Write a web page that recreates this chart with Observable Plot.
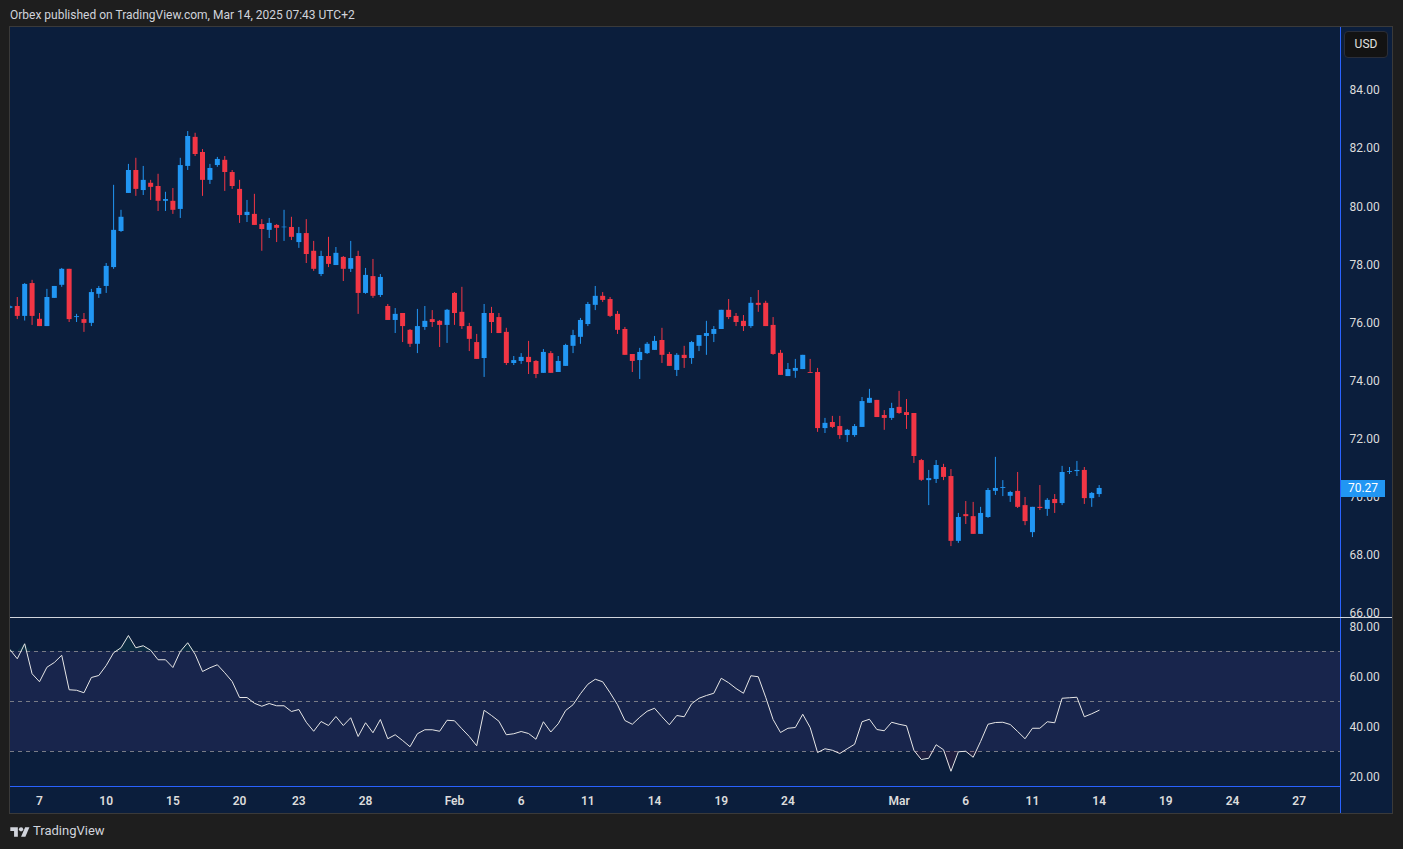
<!DOCTYPE html>
<html><head><meta charset="utf-8">
<script src="https://cdn.jsdelivr.net/npm/d3@7"></script>
<script src="https://cdn.jsdelivr.net/npm/@observablehq/plot@0.6"></script>
<style>
body{margin:0;background:#1e1e1e;}
#root{position:relative;width:1403px;height:849px;overflow:hidden;background:#1e1e1e;font-family:Roboto,"Noto Sans",sans-serif;}
.abs{position:absolute;}
</style></head><body>
<div id="root">
  <div class="abs" style="left:10px;top:8px;font-size:12px;color:#d1d4dc;">Orbex published on TradingView.com, Mar 14, 2025 07:43 UTC+2</div>
  <div class="abs" style="left:9px;top:26px;width:1382px;height:786px;border:1px solid #3a3a3a;background:#0b1e3c;"></div>
  <div id="price" class="abs" style="left:10px;top:27px"></div>
  <div id="rsi" class="abs" style="left:10px;top:617px"></div>
  <div class="abs" style="left:1340px;top:27px;width:1px;height:786px;background:#2962ff;"></div>
  <div class="abs" style="left:10px;top:617px;width:1382px;height:1px;background:#d1d4dc;"></div>
  <div class="abs" style="left:10px;top:786px;width:1330px;height:1px;background:#2962ff;"></div>
  <div class="abs" style="left:1344px;top:31px;width:42px;height:25px;border:1px solid #2a2e39;border-radius:4px;background:#131313;color:#e0e0e0;font-size:12px;line-height:25px;text-align:center;">USD</div>
  <div id="lastLabel" class="abs" style="left:1341px;width:44px;height:17px;background:#2196f3;color:#fff;font-size:12px;line-height:17px;text-align:center;"></div>
  <svg class="abs" style="left:10px;top:825px" width="20" height="14" viewBox="0 0 36 26"><path d="M14 22H7V11H0V4h14v18z" fill="#d1d4dc"/><circle cx="20" cy="8" r="4" fill="#d1d4dc"/><path d="M28 22h-8l7.5-18h8L28 22z" fill="#d1d4dc"/></svg>
  <div class="abs" style="left:33px;top:823px;font-size:13px;color:#d1d4dc;">TradingView</div>
</div>
<script>
const open = [76.47,76.53,76.19,77.32,76.09,75.84,76.81,77.26,77.81,76.15,76.08,75.95,76.95,77.22,77.87,79.11,80.42,81.21,80.52,80.77,
80.66,80.15,80.15,79.87,81.35,82.35,81.83,80.87,81.38,81.56,81.14,80.56,79.66,79.70,79.35,79.15,79.32,79.24,79.25,78.73,
79.04,78.43,77.63,78.25,77.94,78.22,77.81,78.25,76.98,77.56,76.91,76.53,76.05,76.29,75.71,75.23,75.81,76.08,76.02,75.88,
76.98,76.33,75.84,75.29,74.74,76.29,76.15,75.64,74.57,74.64,74.78,74.64,74.23,74.91,74.26,74.47,75.16,75.47,75.91,76.57,
76.88,76.77,76.26,75.74,74.88,74.67,74.91,75.02,75.36,74.88,74.33,74.85,74.74,75.16,75.50,75.57,75.74,76.40,76.19,76.02,
75.84,76.64,76.64,75.88,74.92,74.12,74.30,74.36,74.26,74.26,72.33,72.54,72.40,72.09,72.09,72.37,73.20,73.30,72.78,72.68,
73.06,72.88,72.85,71.23,70.54,70.58,70.99,70.68,68.45,69.37,69.30,68.69,69.27,70.17,70.27,70.00,70.17,69.68,68.75,69.62,
69.55,69.89,69.75,70.82,70.85,70.89,69.92,70.06];
const high = [76.55,76.84,77.32,77.43,76.29,77.12,77.22,77.84,77.81,76.26,76.29,77.12,77.22,78.01,80.70,79.84,81.42,81.63,81.35,80.87,
81.08,80.46,80.59,81.63,82.55,82.49,81.93,81.42,81.66,81.69,81.21,80.87,80.18,80.39,79.52,79.56,79.35,79.84,79.60,79.25,
79.52,78.77,78.43,78.91,78.56,78.25,78.77,78.43,77.84,78.15,77.63,76.60,76.46,76.29,75.74,76.43,76.53,76.39,76.05,76.43,
77.01,77.19,75.95,75.57,76.60,76.50,76.29,75.78,74.81,74.91,75.33,74.67,75.05,74.98,74.81,75.23,75.71,76.12,76.67,77.22,
77.01,76.84,76.36,75.81,74.88,75.09,75.29,75.50,75.78,74.95,74.91,75.16,75.33,75.53,76.02,75.84,76.40,76.77,76.29,76.22,
76.84,77.08,76.71,76.15,75.02,74.57,74.71,74.85,74.71,74.40,72.68,72.75,72.75,72.30,72.47,73.40,73.68,73.30,72.95,73.20,
73.61,73.33,72.85,71.27,70.89,71.23,71.10,70.92,69.41,69.82,69.79,69.62,70.27,71.34,70.54,70.17,70.82,69.96,69.62,70.37,
69.92,70.06,71.03,70.99,71.20,70.99,70.13,70.37];
const low = [76.45,76.08,76.03,75.88,75.84,75.84,76.81,77.19,75.98,75.98,75.64,75.84,76.81,76.98,77.81,79.08,80.42,80.32,80.35,80.18,
79.80,79.80,79.70,79.56,81.21,81.69,80.32,80.73,81.32,80.49,80.56,79.39,79.42,79.32,78.43,78.87,78.73,78.77,78.80,78.53,
78.01,77.74,77.56,77.87,77.94,77.39,77.70,76.26,76.95,76.81,76.84,76.05,75.60,75.29,75.12,74.91,75.71,75.81,75.12,75.26,
75.88,75.74,74.98,74.71,74.09,75.60,75.60,74.50,74.50,74.54,74.19,74.05,74.23,74.23,74.26,74.47,74.91,75.23,75.84,76.39,
76.67,76.15,75.57,74.85,74.26,74.02,74.88,75.02,74.57,74.47,74.12,74.40,74.54,74.98,74.85,75.29,75.74,76.08,75.84,75.67,
75.78,76.33,75.84,74.85,74.16,74.12,74.06,74.36,74.23,72.20,72.16,72.33,71.96,71.85,72.03,72.37,73.20,72.71,72.27,72.61,
72.82,72.30,71.13,70.51,69.68,70.44,70.54,68.27,68.38,69.03,68.69,68.69,69.24,70.03,69.99,69.79,69.58,68.99,68.58,69.51,
69.31,69.41,69.68,70.75,70.68,69.72,69.62,69.96];
const close = [76.52,76.19,77.29,76.19,75.84,76.84,77.22,77.81,76.08,76.18,75.95,77.01,77.15,77.91,79.15,79.60,81.21,80.56,80.87,80.63,
80.15,80.21,79.84,81.38,82.38,81.76,80.87,81.28,81.59,81.14,80.66,79.66,79.77,79.32,79.18,79.39,79.22,79.26,78.91,79.04,
78.32,77.81,78.25,77.98,78.36,77.81,78.18,76.98,77.60,76.88,77.53,76.05,76.26,75.84,75.23,75.84,76.02,75.98,75.88,76.40,
76.29,75.84,75.40,74.71,76.29,75.98,75.60,74.57,74.67,74.78,74.60,74.19,74.95,74.23,74.64,75.19,75.53,76.05,76.60,76.88,
76.74,76.19,75.71,74.85,74.64,74.95,75.23,75.33,74.85,74.47,74.85,74.74,75.29,75.53,75.60,75.74,76.40,76.15,75.98,75.84,
76.64,76.57,75.84,74.88,74.16,74.36,74.40,74.85,74.23,72.33,72.51,72.37,72.09,72.27,72.40,73.26,73.37,72.71,72.68,73.02,
72.85,72.78,71.37,70.55,70.61,71.06,70.65,68.45,69.27,69.30,68.69,69.41,70.20,70.27,70.30,70.13,69.62,69.13,69.62,69.58,
69.86,69.75,70.82,70.85,70.89,69.92,70.10,70.27];
const rsi = [70.8,67.1,73.1,61.1,57.9,63.7,65.6,68.5,54.7,54.5,53.5,59.6,60.4,64.4,69.5,71.5,76.4,71.5,72.3,70.5,
66.7,66.7,63.6,70.0,73.5,68.9,62.0,63.5,64.7,61.5,58.0,51.6,51.6,49.3,48.1,49.2,48.3,48.3,46.0,46.8,
41.7,38.1,42.0,40.4,44.0,40.4,43.5,36.0,41.5,37.5,42.8,35.1,36.7,34.4,31.9,37.1,38.7,38.7,38.1,42.5,
42.3,39.1,36.0,32.3,46.5,44.4,42.1,36.7,37.1,38.0,37.2,34.9,41.9,37.8,41.1,46.4,48.7,53.1,56.9,58.9,
57.9,53.5,48.7,42.4,40.9,43.7,46.1,47.3,43.9,40.7,44.4,43.9,49.1,51.3,52.4,53.3,59.3,57.5,55.2,53.3,
60.3,59.9,51.7,42.8,37.6,39.3,39.6,44.9,39.6,29.6,31.1,30.5,29.2,31.1,32.9,41.9,42.9,38.8,38.3,41.7,
40.9,40.3,30.5,26.8,27.3,32.7,30.7,22.1,29.9,30.1,27.7,34.0,40.9,41.6,41.7,40.8,38.0,35.1,39.3,39.3,
41.9,41.5,51.3,51.5,51.7,43.9,45.1,46.5];
const timeTickIndex = [4,13,22,31,39,48,60,69,78,87,96,105,120,129,138,147,156,165,174];
const timeTickLabel = ["7","10","15","20","23","28","Feb","6","11","14","19","24","Mar","6","11","14","19","24","27"];
const priceTicks = [66,68,70,72,74,76,78,80,82,84];
const rsiTicks = [20,40,60,80];
const rsiLevels = [70,50,30];

const UP = "#2196f3", DOWN = "#f23645";
const xDomain = [0.086, 179.57];
const priceDomain = [65.83, 86.13];
const rsiDomain = [16, 83.6];
const idx = d3.range(close.length);
const col = i => close[i] >= open[i] ? UP : DOWN;
const baseStyle = {background:"transparent", color:"#dcdcdc", fontFamily:"Roboto, 'Noto Sans', sans-serif", fontSize:"12px", overflow:"visible"};

const pricePlot = Plot.plot({
  width: 1382, height: 590,
  marginLeft: 0, marginRight: 52, marginTop: 0, marginBottom: 0,
  style: baseStyle,
  x: {domain: xDomain, axis: null},
  y: {domain: priceDomain, axis: null},
  marks: [
    Plot.axisY({anchor: "right", ticks: priceTicks, tickFormat: d => d.toFixed(2), tickSize: 0, tickPadding: 9, label: null, dy: 1}),
    Plot.ruleX(idx, {x: i => i, y1: i => low[i], y2: i => high[i], stroke: col, strokeWidth: 1, clip: true}),
    Plot.ruleX(idx, {x: i => i, y1: i => open[i], y2: i => close[i], stroke: col, strokeWidth: 5, clip: true})
  ]
});
document.getElementById("price").appendChild(pricePlot);

const rsiPlot = Plot.plot({
  width: 1382, height: 196,
  marginLeft: 0, marginRight: 52, marginTop: 0, marginBottom: 27,
  style: baseStyle,
  x: {domain: xDomain, axis: null},
  y: {domain: rsiDomain, axis: null},
  marks: [
    Plot.rect([rsiLevels], {x1: xDomain[0], x2: xDomain[1], y1: d => d[2], y2: d => d[0], fill: "#7e57c2", fillOpacity: 0.12}),
    Plot.ruleY(rsiLevels, {stroke: "#787b86", strokeDasharray: "4,4", strokeWidth: 1}),
    Plot.areaY(idx, {x: i => i, y1: rsiLevels[0], y2: i => Math.max(rsi[i], rsiLevels[0]), fill: "#0f8a6a", fillOpacity: 0.12, clip: true}),
    Plot.areaY(idx, {x: i => i, y1: rsiLevels[2], y2: i => Math.min(rsi[i], rsiLevels[2]), fill: "#b2285a", fillOpacity: 0.12, clip: true}),
    Plot.lineY(idx, {x: i => i, y: i => rsi[i], stroke: "#e6e6e6", strokeWidth: 1, clip: true}),
    Plot.axisY({anchor: "right", ticks: rsiTicks, tickFormat: d => d.toFixed(2), tickSize: 0, tickPadding: 9, label: null, dy: 1}),
    Plot.axisX({anchor: "bottom", ticks: timeTickIndex, tickFormat: d => timeTickLabel[timeTickIndex.indexOf(d)], tickSize: 0, tickPadding: 10, label: null, fontWeight: 600})
  ]
});
document.getElementById("rsi").appendChild(rsiPlot);

const lastY = 27 + pricePlot.scale("y").apply(close[close.length - 1]);
const lab = document.getElementById("lastLabel");
lab.style.top = (lastY - 7.5) + "px";
lab.textContent = close[close.length - 1].toFixed(2);
</script>
</body></html>
